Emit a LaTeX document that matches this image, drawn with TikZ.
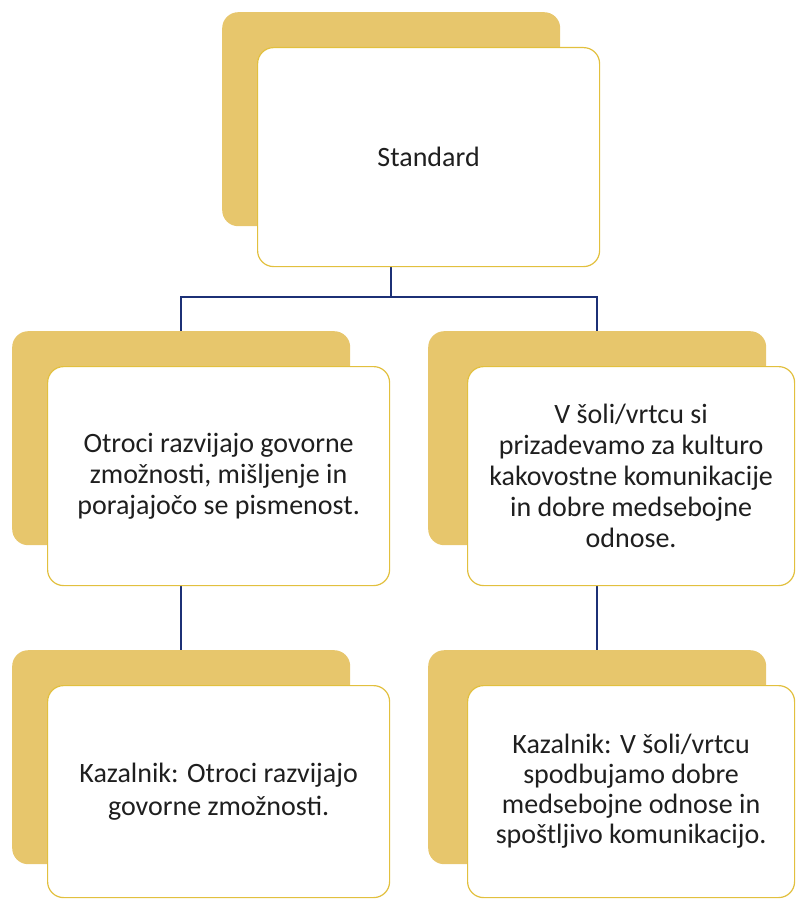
\documentclass[tikz,border=0pt]{standalone}
\usepackage{fontspec}
\setmainfont{Carlito}
\usepackage{xcolor}
\usetikzlibrary{positioning}

\definecolor{cardgold}{RGB}{231,198,108}
\definecolor{cardedge}{RGB}{226,192,62}
\definecolor{linkblue}{RGB}{28,48,118}

\tikzset{
	backcard/.style = {fill = cardgold, rounded corners = 16pt, minimum width = 338pt, minimum height = 214pt, inner sep = 0pt, anchor = north west},
	frontcard/.style = {fill = white, draw = cardedge, line width = 1.2pt, rounded corners = 16pt, minimum width = 342pt, minimum height = 219pt, inner sep = 0pt, align = center, text = black!88, font = \fontsize{28}{31}\selectfont, anchor = north west, xshift = 35pt, yshift = -35pt},
	link/.style = {draw = linkblue, line width = 1.9pt}
}

\begin{document}
\begin{tikzpicture}[x = 1pt, y = -1pt]
			\useasboundingbox (0,0) rectangle (796,899);
			
			\node [backcard] (standardback) at (222,12) {};
			\node [backcard] (otrociback) at (12,331) {};
			\node [backcard] (solaback) at (428,331) {};
			\node [backcard] (kazlback) at (12,650) {};
			\node [backcard] (kazrback) at (428,650) {};
			
			\path [link] (standardback.south) -- ++(0,71) -| (otrociback.north);
			\path [link] (standardback.south) -- ++(0,71) -| (solaback.north);
			\path [link] (otrociback.south) -- (kazlback.north);
			\path [link] (solaback.south) -- (kazrback.north);
			
			\node [frontcard] (standard) at (standardback.north west) {Standard};
			\node [frontcard] (otroci) at (otrociback.north west) {Otroci razvijajo govorne\\zmožnosti, mišljenje in\\porajajočo se pismenost.};
			\node [frontcard, minimum width = 327pt, xshift = 4pt] (sola) at (solaback.north west) {V šoli/vrtcu si\\prizadevamo za kulturo\\kakovostne komunikacije\\in dobre medsebojne\\odnose.};
			\node [frontcard, minimum height = 212pt, font = \fontsize{28}{33}\selectfont] (kazl) at (kazlback.north west) {Kazalnik: Otroci razvijajo\\govorne zmožnosti.};
			\node [frontcard, minimum width = 327pt, minimum height = 212pt, xshift = 4pt, font = \fontsize{28}{30}\selectfont] (kazr) at (kazrback.north west) {Kazalnik: V šoli/vrtcu\\spodbujamo dobre\\medsebojne odnose in\\spoštljivo komunikacijo.};
		\end{tikzpicture}
\end{document}
